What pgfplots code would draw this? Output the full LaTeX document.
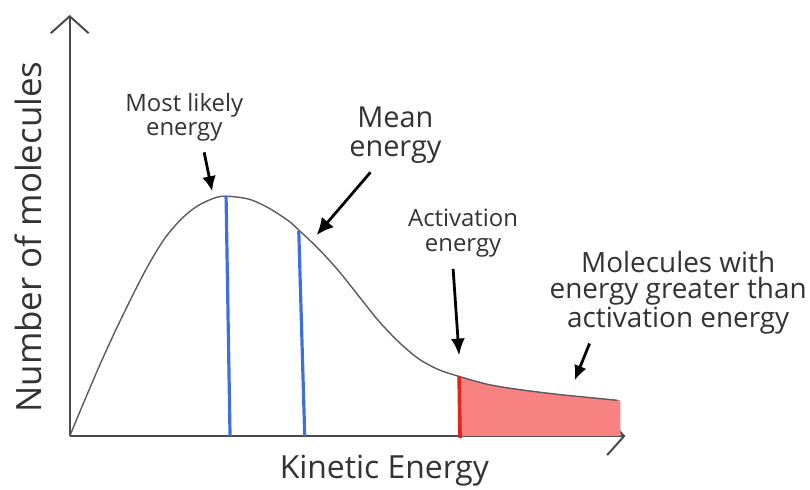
\documentclass[border=0pt]{standalone}
\usepackage{pgfplots}
\pgfplotsset{compat=1.18}
\usepackage{fontspec}
\setmainfont{Open Sans}
\usetikzlibrary{arrows.meta}
\definecolor{curvegray}{HTML}{5A5A5A}
\definecolor{axisgray}{HTML}{4A4A4A}
\definecolor{txt}{HTML}{333333}
\definecolor{lineblue}{HTML}{3D6FE3}
\definecolor{linered}{HTML}{E8201E}
\definecolor{fillred}{HTML}{F88282}
\begin{document}
\begin{tikzpicture}
\begin{axis}[
  x=1pt, y=1pt,
  xmin=0, xmax=558, ymin=0, ymax=423,
  axis lines=left,
  ticks=none,
  clip=false,
  axis line style={line width=2.2pt, color=axisgray, -{Straight Barb[length=17pt,width=38pt,line width=2pt]}},
]
% shaded region beyond activation energy
\addplot[fill=fillred, draw=none] coordinates {
  (391,0) (391,60) (420,52) (450,47) (490,42) (530,38) (553,36) (553,0)
} -- cycle;
% distribution curve
\addplot[curvegray, line width=1.4pt, smooth] coordinates {
  (0,0) (15,36) (30,71) (45,104) (62,139) (78,170) (95,198) (112,218)
  (128,231) (145,239) (157,241) (180,238) (200,229) (220,216) (230,207)
  (250,188) (270,166) (290,141) (310,116) (330,95) (350,78) (370,67)
  (391,60) (420,52) (450,47) (490,42) (530,38) (550,36)
};
% most likely energy
\addplot[lineblue, line width=3.2pt] coordinates {(157,241) (161,0)};
% mean energy
\addplot[lineblue, line width=3.2pt] coordinates {(230,206) (236,0)};
% activation energy
\addplot[linered, line width=3.6pt] coordinates {(391,60) (392,-2)};

% arrows
\draw[-{Latex[length=15pt,width=14pt]}, line width=2.8pt] (axis cs:135,285) -- (axis cs:143,246);
\draw[-{Latex[length=17pt,width=16pt]}, line width=2.8pt] (axis cs:302,265) -- (axis cs:248,202);
\draw[-{Latex[length=17pt,width=14pt]}, line width=2.8pt] (axis cs:385,168) -- (axis cs:391,81);
\draw[-{Latex[length=15pt,width=13pt]}, line width=2.8pt] (axis cs:522,93) -- (axis cs:507,56);

% labels
\node[txt, align=center, font=\fontsize{24}{24}\selectfont] at (axis cs:115,320) {Most likely\\energy};
\node[txt, align=center, font=\fontsize{29}{29}\selectfont] at (axis cs:327,302) {Mean\\energy};
\node[txt, align=center, font=\fontsize{24}{25}\selectfont] at (axis cs:395,204) {Activation\\energy};
\node[txt, align=center, font=\fontsize{28}{26}\selectfont] at (axis cs:611,144) {Molecules with\\energy greater than\\activation energy};
\node[txt, font=\fontsize{32}{34}\selectfont] at (axis cs:316,-35) {Kinetic Energy};
\node[txt, rotate=90, font=\fontsize{35}{38}\selectfont] at (axis cs:-42,200) {Number of molecules};

\path (axis cs:-70,-54) rectangle (axis cs:740,438);
\end{axis}
\end{tikzpicture}
\end{document}
